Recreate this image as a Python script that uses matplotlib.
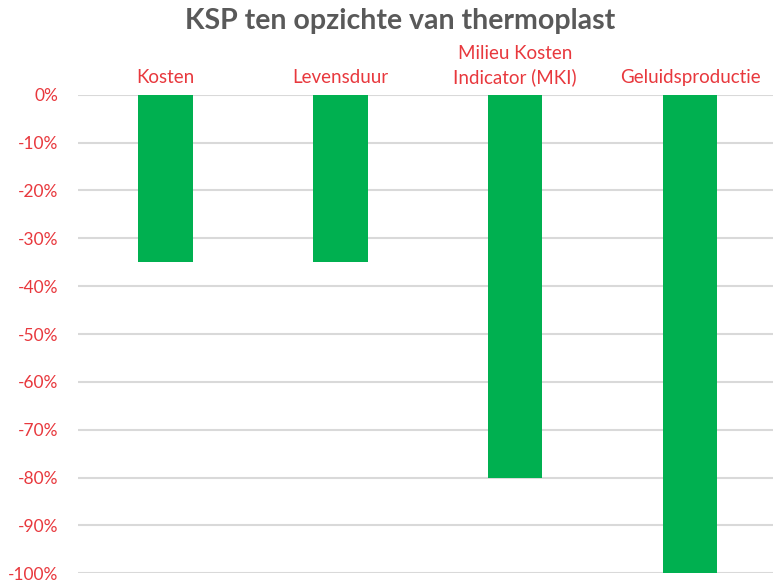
import numpy as np
import matplotlib.pyplot as plt
from matplotlib.ticker import FuncFormatter

# data
categories = ['Kosten', 'Levensduur', 'Milieu Kosten\nIndicator (MKI)', 'Geluidsproductie']
values = [-35, -35, -80, -100]

plt.rcParams['font.family'] = ['Lato', 'DejaVu Sans']

fig = plt.figure(figsize=(7.73, 5.85), dpi=100)
ax = fig.add_axes([0.101, 0.02, 0.905, 0.818])

x = np.arange(len(categories))
ax.bar(x, values, width=0.31, color='#00B050', zorder=3)

ax.set_ylim(-100, 0)
ax.set_xlim(-0.5, len(categories) - 0.5)
ax.set_yticks(np.arange(-100, 1, 10))
ax.yaxis.set_major_formatter(FuncFormatter(lambda v, p: f'{int(round(v))}%'))
ax.grid(axis='y', color='#D9D9D9', linewidth=1.5, zorder=0)

ax.xaxis.tick_top()
ax.set_xticks(x)
ax.set_xticklabels(categories, color='#E8383D', fontsize=13.5, linespacing=1.45)
ax.tick_params(axis='x', length=0, pad=6)
ax.tick_params(axis='y', length=0, pad=14, labelcolor='#E8383D', labelsize=12.5)

for s in ax.spines.values():
    s.set_visible(False)

fig.suptitle('KSP ten opzichte van thermoplast', fontsize=20.5, fontweight='bold',
             color='#595959', x=0.517, y=0.986)

fig.savefig('out.png', dpi=100, facecolor='white')
